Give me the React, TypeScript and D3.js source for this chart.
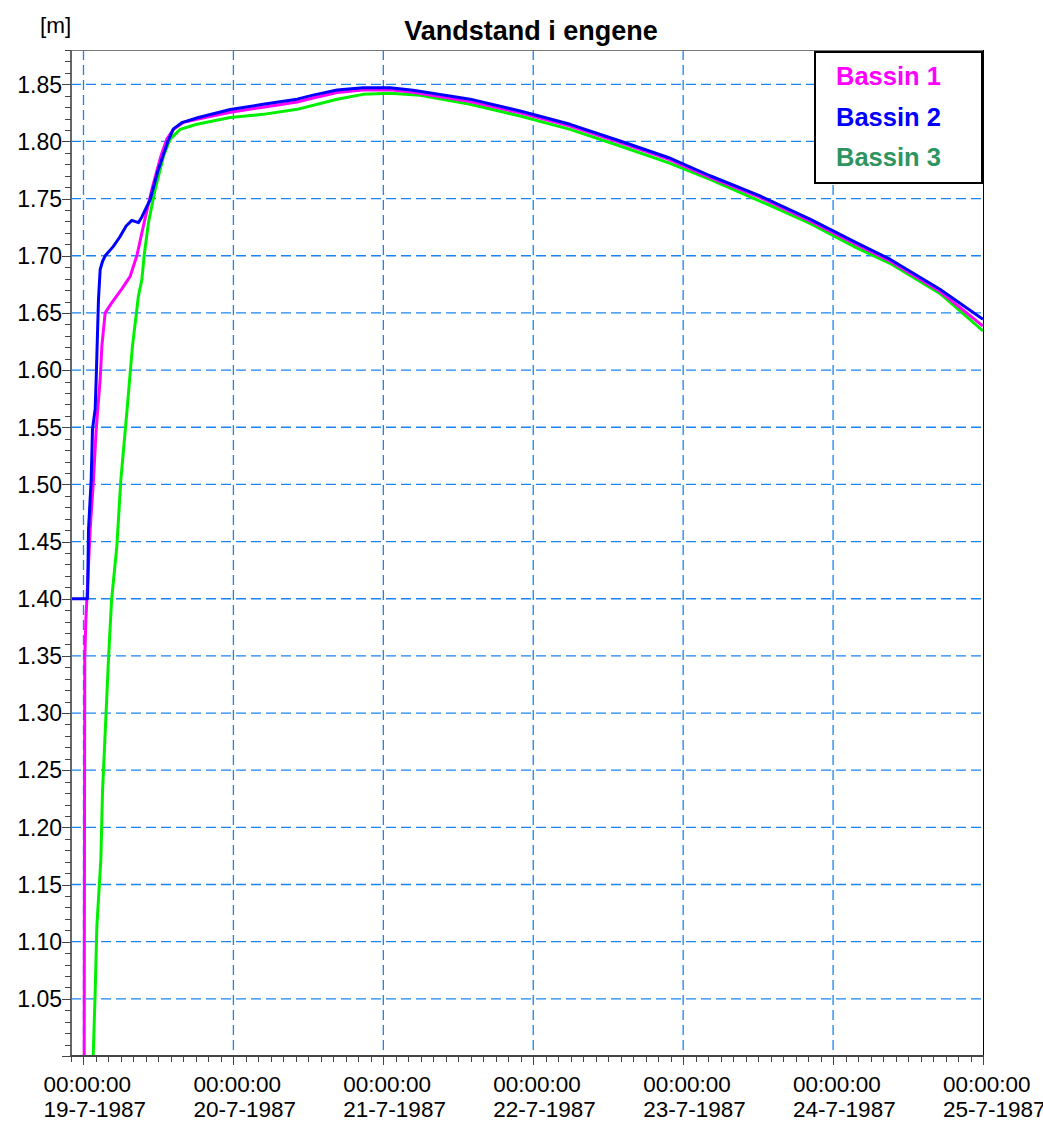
import React from "react";
import * as d3 from "d3";

// hours since 19-7-1987 00:00
const hours1 = [0.1, 0.2, 0.38, 0.7, 1.07, 1.6, 2.03, 2.67, 2.94, 3.47, 4.54, 6.14, 7.47, 8.54, 9.71, 10.94, 12.38, 13.34, 14.4, 16, 18.14, 23.5, 28.75, 34.2, 36.75, 40.6, 44.75, 49.1, 52.75, 61.9, 69.9, 77.9, 85.9, 93.6, 100.3, 108.3, 116.3, 123.7, 129.1, 137.1, 144];
const bassin1 = [0.95, 1.347, 1.382, 1.417, 1.461, 1.504, 1.548, 1.592, 1.621, 1.650, 1.659, 1.671, 1.682, 1.700, 1.729, 1.758, 1.787, 1.802, 1.8106, 1.8167, 1.8194, 1.8255, 1.830, 1.8345, 1.838, 1.8428, 1.845, 1.8452, 1.843, 1.835, 1.825, 1.8135, 1.799, 1.7845, 1.7685, 1.751, 1.7305, 1.710, 1.6955, 1.669, 1.6385];

const hours2 = [-2, 0.65, 0.8, 1.23, 1.44, 1.87, 2.03, 2.4, 2.67, 3.04, 3.47, 4.75, 5.76, 6.83, 7.74, 8.8, 9.34, 10.67, 11.84, 12.7, 13.5, 14.4, 15.74, 18.4, 23.5, 28.75, 34.2, 36.75, 40.6, 44.75, 49.1, 52.75, 61.9, 69.9, 77.9, 85.9, 93.6, 100.3, 108.3, 116.3, 123.7, 129.1, 137.1, 144];
const bassin2 = [1.40, 1.40, 1.46, 1.504, 1.548, 1.566, 1.592, 1.662, 1.688, 1.695, 1.70, 1.708, 1.716, 1.726, 1.731, 1.729, 1.734, 1.749, 1.773, 1.787, 1.800, 1.811, 1.8165, 1.821, 1.828, 1.8325, 1.837, 1.8405, 1.845, 1.847, 1.847, 1.8447, 1.837, 1.8266, 1.815, 1.8004, 1.786, 1.770, 1.7523, 1.732, 1.7115, 1.697, 1.6707, 1.6444];

const hours3 = [1.5, 1.87, 2.14, 2.78, 3.04, 3.52, 4.0, 4.5, 5.34, 5.98, 6.94, 7.84, 8.8, 9.34, 9.71, 10.4, 11.47, 12.8, 13.87, 15.47, 18.14, 23.5, 28.75, 34.2, 40.6, 44.75, 49.1, 53.9, 61.9, 69.9, 77.9, 85.9, 93.6, 100.3, 108.3, 116.3, 123.7, 129.1, 137.1, 144];
const bassin3 = [0.99, 1.0556, 1.1136, 1.172, 1.2306, 1.2886, 1.347, 1.399, 1.446, 1.504, 1.563, 1.621, 1.665, 1.679, 1.700, 1.729, 1.758, 1.787, 1.802, 1.8106, 1.815, 1.8209, 1.8237, 1.8281, 1.8369, 1.8412, 1.8421, 1.8404, 1.8325, 1.8223, 1.8106, 1.796, 1.7815, 1.7669, 1.7479, 1.7284, 1.7071, 1.6934, 1.6671, 1.6342];

const dayLabels = ["19-7-1987", "20-7-1987", "21-7-1987", "22-7-1987", "23-7-1987", "24-7-1987", "25-7-1987"];
const yTickValues = [1.05, 1.1, 1.15, 1.2, 1.25, 1.3, 1.35, 1.4, 1.45, 1.5, 1.55, 1.6, 1.65, 1.7, 1.75, 1.8, 1.85];
const legendNames = ["Bassin 1", "Bassin 2", "Bassin 3"];
const legendColors = ["#ff00ff", "#0000ff", "#2e9460"];
const lineColors = ["#ff00ff", "#0000ff", "#00f000"];

const W = 1043, H = 1121;
const L = 71, R = 983, T = 50, B = 1056;

export default function App() {
  const x = d3.scaleLinear().domain([-2, 144]).range([L, R]);
  const y = d3.scaleLinear().domain([1.0, 1.88]).range([B, T]);
  const line = d3.line<[number, number]>().x(d => x(d[0])).y(d => y(d[1]));
  const series = [
    { h: hours3, v: bassin3, c: lineColors[2] },
    { h: hours1, v: bassin1, c: lineColors[0] },
    { h: hours2, v: bassin2, c: lineColors[1] },
  ];
  const minorY = d3.range(100, 189, 1).map(i => i / 100);
  const minorX = d3.range(-2, 145, 2);
  const dayHours = dayLabels.map((_, i) => i * 24);
  const gridColor = "#1a84f2";
  const crisp = (v: number) => Math.round(v) + 0.5;

  return (
    <svg width={W} height={H} style={{ position: "absolute", left: 0, top: 0, background: "#fff" }}
      fontFamily="'Liberation Sans', Arial, sans-serif">
      <defs>
        <clipPath id="plot"><rect x={L} y={T} width={R - L} height={B - T} /></clipPath>
      </defs>
      <text x={531} y={40} textAnchor="middle" fontWeight="bold" fontSize={27}>Vandstand i engene</text>
      <text x={40} y={33} fontSize={22.5}>[m]</text>
      {/* grid */}
      {yTickValues.map(v => (
        <line key={"gy" + v} x1={L} x2={R} y1={y(v)} y2={y(v)} stroke={gridColor} strokeWidth={1.3} strokeDasharray="10 5" />
      ))}
      {dayHours.filter(h => x(h) < R - 1).map(h => (
        <line key={"gx" + h} x1={x(h)} x2={x(h)} y1={T} y2={B} stroke={gridColor} strokeWidth={1.3} strokeDasharray="10 5" />
      ))}
      {/* series */}
      <g clipPath="url(#plot)">
        {series.map((s, i) => (
          <path key={i} d={line(s.h.map((h, j) => [h, s.v[j]] as [number, number])) || ""} fill="none" stroke={s.c} strokeWidth={3} strokeLinejoin="round" />
        ))}
      </g>
      {/* frame */}
      <line x1={L} x2={R} y1={T + 0.5} y2={T + 0.5} stroke="#777" strokeWidth={1} />
      <line x1={R + 0.5} x2={R + 0.5} y1={T} y2={B} stroke="#000" strokeWidth={1} />
      <line x1={L} x2={L} y1={T} y2={B + 1} stroke="#666" strokeWidth={2} />
      <line x1={L - 1} x2={R + 1} y1={B} y2={B} stroke="#444" strokeWidth={2} />
      {/* y ticks */}
      {minorY.map(v => {
        const major = Math.abs(v * 20 - Math.round(v * 20)) < 1e-6;
        return <line key={"ty" + v} x1={major ? L - 9 : L - 6} x2={L} y1={crisp(y(v))} y2={crisp(y(v))} stroke="#444" strokeWidth={1} />;
      })}
      {yTickValues.map(v => (
        <text key={"ly" + v} x={62} y={y(v)} dy="0.36em" textAnchor="end" fontSize={23} fill="#000">{v.toFixed(2)}</text>
      ))}
      {/* x ticks */}
      {minorX.map(h => {
        const major = h % 24 === 0;
        return <line key={"tx" + h} x1={crisp(x(h))} x2={crisp(x(h))} y1={B} y2={major ? B + 9 : B + 6} stroke="#444" strokeWidth={1} />;
      })}
      {dayHours.map((h, i) => (
        <g key={"lx" + h}>
          <text x={x(h) - 40} y={1092} textAnchor="start" fontSize={22.5}>00:00:00</text>
          <text x={x(h) - 40} y={1117} textAnchor="start" fontSize={22.5}>{dayLabels[i]}</text>
        </g>
      ))}
      {/* legend */}
      <rect x={815} y={52} width={167} height={131} fill="#fff" stroke="#000" strokeWidth={2} />
      {legendNames.map((n, i) => (
        <text key={n} x={836} y={85 + i * 40.5} fontSize={25.5} fontWeight="bold" fill={legendColors[i]}>{n}</text>
      ))}
    </svg>
  );
}
